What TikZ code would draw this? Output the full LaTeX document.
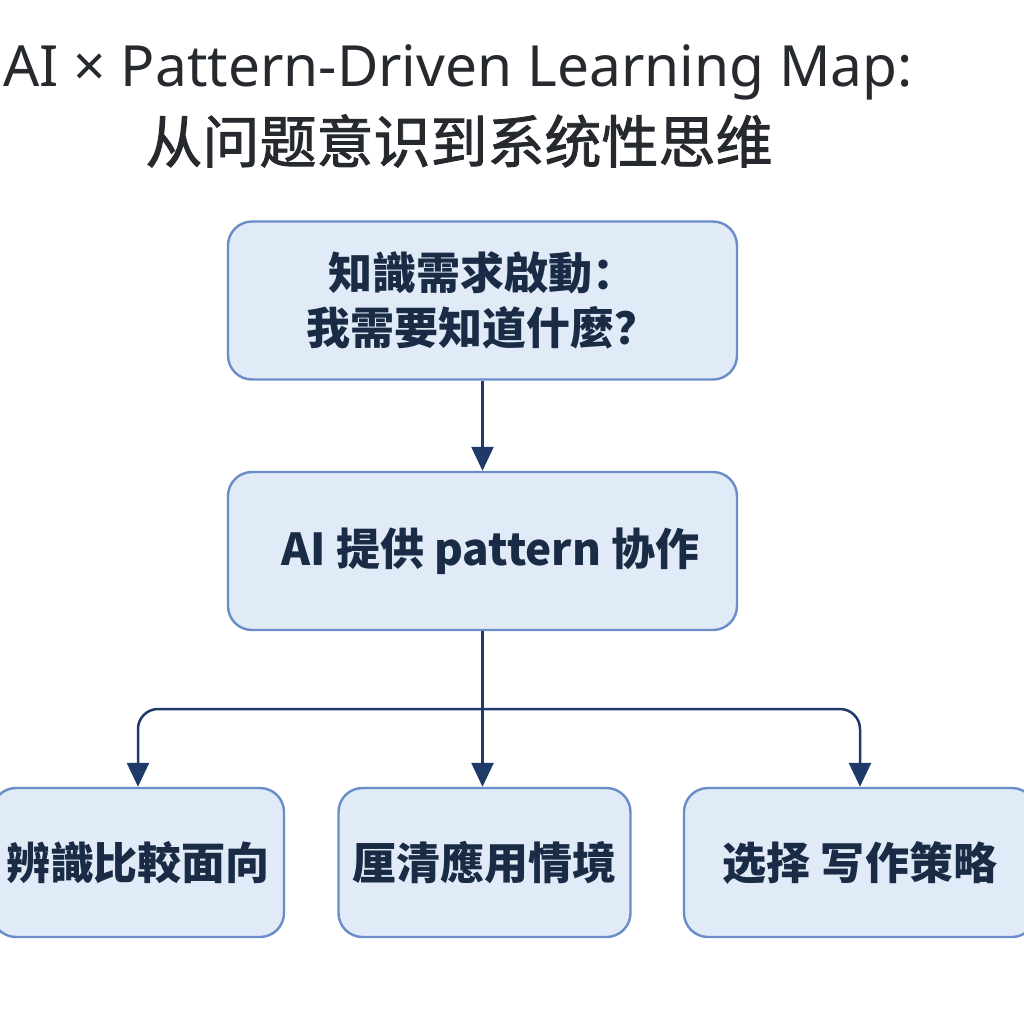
\documentclass[tikz,border=0pt]{standalone}
\usepackage{fontspec}
\setmainfont{Noto Sans}
\newfontfamily\cjk{Noto Sans CJK SC}
\newfontfamily\cjkmed[FakeBold=1.6]{Noto Sans CJK SC}
\usetikzlibrary{arrows.meta,positioning,calc}
\definecolor{boxfill}{HTML}{E1EBF8}
\definecolor{boxline}{HTML}{6A8CC8}
\definecolor{arrline}{HTML}{1F3A68}
\definecolor{txtdark}{HTML}{1A2B45}
\definecolor{titlegray}{HTML}{262A2F}

\begin{document}
\begin{tikzpicture}[x=0.5pt,y=-0.5pt,
  stepbox/.style={draw=boxline, fill=boxfill, line width=1.2pt, rounded corners=12pt,
    align=center, text=txtdark, inner sep=0pt,
    font=\cjk\bfseries\fontsize{22pt}{27.5pt}\selectfont},
  wide/.style={minimum width=254.5pt, minimum height=79pt},
  leaf/.style={minimum width=146pt, minimum height=74.5pt},
  arr/.style={draw=arrline, line width=1.25pt, -{Triangle[length=12pt,width=11pt]}}]
  \useasboundingbox (0,0) rectangle (1024,1024);

  %% Title lines
  \node[text=titlegray, font=\fontsize{28.4pt}{34pt}\selectfont] (TITLE) at (458,72)
    {AI × Pattern-Driven Learning Map:};
  \node[text=titlegray, font=\cjkmed\fontsize{28.5pt}{34pt}\selectfont] (SUBTITLE) at (459,141)
    {从问题意识到系统性思维};

  %% Main chain
  \node[stepbox, wide] (NEED) at (482.5,300.5) {知識需求啟動：\\我需要知道什麼？};
  \node[stepbox, wide] (PAT) at (482.5,551) {\hspace*{8pt}AI 提供 pattern 协作};

  %% Three branches
  \node[stepbox, leaf] (CMP) at (138,862.5) {辨識比較面向};
  \node[stepbox, leaf] (CTX) at (484.5,862.5) {厘清應用情境};
  \node[stepbox, leaf, minimum width=176pt] (STRAT) at (860,862.5) {选择 写作策略};

  %% Connectors
  \coordinate (FORK) at ($(PAT.south)!0.5!(CTX.north)$);
  \draw[arr] (NEED.south) -- (PAT.north);
  \draw[arr] (PAT.south) -- (PAT.south |- CTX.north);
  \draw[arr, rounded corners=10pt] (FORK) -| (CMP.north);
  \draw[arr, rounded corners=10pt] (FORK) -| (STRAT.north);
\end{tikzpicture}
\end{document}
